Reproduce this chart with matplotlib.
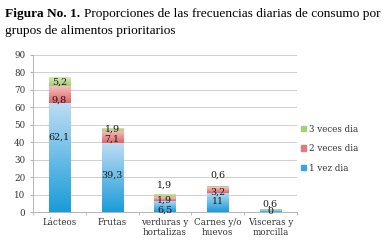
import matplotlib
matplotlib.use("Agg")
import matplotlib.pyplot as plt
import numpy as np
from matplotlib.colors import LinearSegmentedColormap
from matplotlib.patches import Rectangle

categories = ["Lácteos", "Frutas", "verduras y\nhortalizas", "Carnes y/o\nhuevos", "Visceras y\nmorcilla"]
series_names = ["1 vez dia", "2 veces dia", "3 veces dia"]
vez1 = [62.1, 39.3, 6.5, 11.0, 1.1]
veces2 = [9.8, 7.1, 1.9, 3.2, 0.0]
veces3 = [5.2, 1.9, 1.9, 0.6, 0.6]
labels1 = ["62,1", "39,3", "6,5", "11", ""]
labels2 = ["9,8", "7,1", "1,9", "3,2", "0"]
labels3 = ["5,2", "1,9", "1,9", "0,6", "0,6"]
yticks = [0, 10, 20, 30, 40, 50, 60, 70, 80, 90]

# label nudges (in data units) relative to segment centre
nudge1 = [12, 1.5, -2.2, 0.8, 0]
nudge2 = [-3, -1.2, -0.5, -1.0, -0.9]
nudge3 = [0, 0, 6.2, 6.4, 3.3]

grads = {
    "1 vez dia": ("#1a9cd8", "#bcdcf4"),
    "2 veces dia": ("#e06466", "#f6c4c4"),
    "3 veces dia": ("#a6ca74", "#dcedc0"),
}
legend_cols = {"1 vez dia": "#3aa6e0", "2 veces dia": "#e47a7c", "3 veces dia": "#a8cc78"}

serif = "DejaVu Serif"
fig = plt.figure(figsize=(3.88, 2.46), dpi=100)
ax = fig.add_axes([0.085, 0.138, 0.68, 0.64])
x = np.arange(len(categories))
w = 0.40
ax.set_xlim(-0.5, len(categories) - 0.5)
ax.set_ylim(0, 90)

data = [vez1, veces2, veces3]
labs = [labels1, labels2, labels3]
nudges = [nudge1, nudge2, nudge3]
bottom = np.zeros(len(categories))
for s, name in enumerate(series_names):
    vals = np.array(data[s])
    c0, c1 = grads[name]
    cmap = LinearSegmentedColormap.from_list(name, [c0, c1])
    bars = ax.bar(x, vals, w, bottom=bottom, color="none", edgecolor="none", zorder=2)
    for i, b in enumerate(bars):
        if vals[i] <= 0:
            continue
        grad = np.linspace(0, 1, 64).reshape(-1, 1)
        im = ax.imshow(grad, cmap=cmap, aspect="auto", origin="lower",
                       extent=[b.get_x(), b.get_x() + b.get_width(), bottom[i], bottom[i] + vals[i]],
                       zorder=2, interpolation="bilinear")
        im.set_clip_path(b)
    for i in range(len(categories)):
        if labs[s][i]:
            ax.text(x[i], bottom[i] + vals[i] / 2 + nudges[s][i], labs[s][i], ha="center", va="center",
                    fontsize=6.8, family=serif, color="#1a1a1a", zorder=4)
    bottom = bottom + vals

ax.set_yticks(yticks)
ax.set_yticklabels([str(t) for t in yticks], family=serif, fontsize=6.3, color="#333333")
ax.set_xticks(x)
ax.set_xticklabels(categories, family=serif, fontsize=6.3, color="#333333", linespacing=1.25)
ax.tick_params(axis="x", length=0, pad=4)
ax.tick_params(axis="y", length=2.5, color="#b4b4b4", pad=3)
ax.set_xticks(np.arange(-0.5, len(categories)), minor=True)
ax.tick_params(axis="x", which="minor", length=2.5, color="#b4b4b4")
ax.grid(axis="y", color="#d0d0d0", linewidth=0.7, zorder=0)
ax.set_axisbelow(True)
for sp in ["top", "right"]:
    ax.spines[sp].set_visible(False)
for sp in ["left", "bottom"]:
    ax.spines[sp].set_color("#b4b4b4")
    ax.spines[sp].set_linewidth(0.7)

handles = [Rectangle((0, 0), 1, 1, color=legend_cols[n]) for n in reversed(series_names)]
leg = fig.legend(handles, list(reversed(series_names)), loc="upper left", bbox_to_anchor=(0.755, 0.525),
                 frameon=False, prop={"family": serif, "size": 6.3}, handlelength=0.6,
                 handleheight=0.6, handletextpad=0.3, labelspacing=1.2)
for t in leg.get_texts():
    t.set_color("#333333")

# Title: bold prefix + normal text, scaled to fit the reference width
tfont = "Liberation Serif"
fs = 9.0
t1 = fig.text(0.012, 0.945, "Figura No. 1.", fontsize=fs, family=tfont, weight="bold", va="center")
t2 = fig.text(0.5, 0.945, "Proporciones de las frecuencias diarias de consumo por", fontsize=fs,
              family=tfont, va="center")
t3 = fig.text(0.012, 0.875, "grupos de alimentos prioritarios", fontsize=fs, family=tfont, va="center")
fig.canvas.draw()
r = fig.canvas.get_renderer()
gap = 4
total = t1.get_window_extent(r).width + gap + t2.get_window_extent(r).width
scale = 377.0 / total
fs2 = fs * scale
for t in (t1, t2, t3):
    t.set_fontsize(fs2)
fig.canvas.draw()
bb = t1.get_window_extent(r)
t2.set_x((bb.x1 + gap * scale) / fig.bbox.width)

fig.savefig("out.png", dpi=100)
